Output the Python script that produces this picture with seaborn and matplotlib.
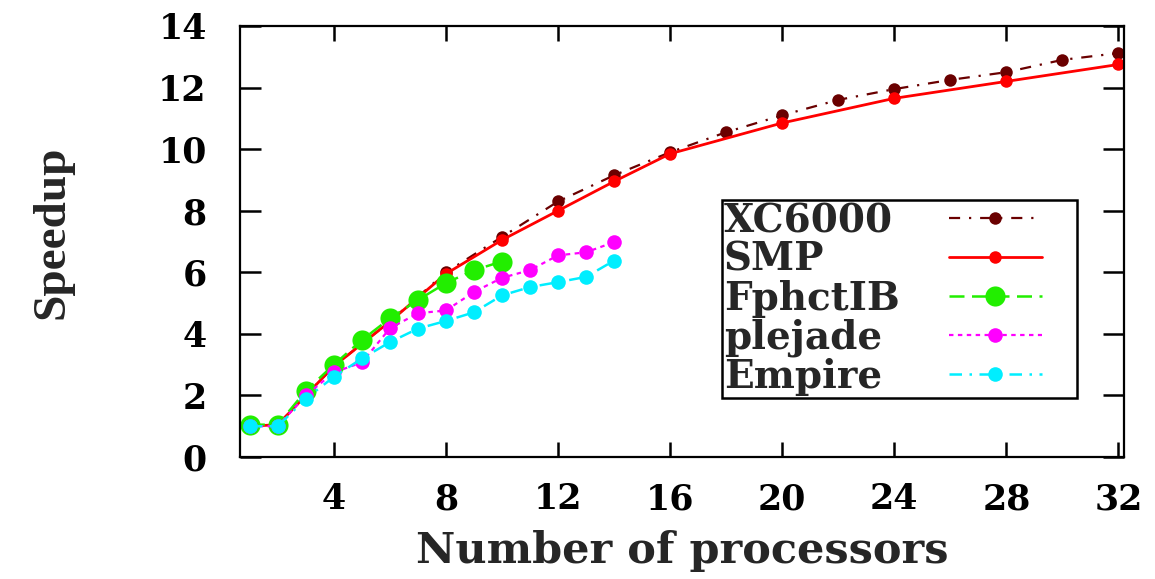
import matplotlib
matplotlib.use("Agg")
import matplotlib.pyplot as plt
from matplotlib.offsetbox import HPacker, DrawingArea
import seaborn as sns
import pandas as pd

# ---- data ----
xc_x = [1, 2, 4, 6, 8, 10, 12, 14, 16, 18, 20, 22, 24, 26, 28, 30, 32]
xc_y = [1.0, 1.05, 2.95, 4.4, 6.0, 7.15, 8.3, 9.15, 9.9, 10.55, 11.1, 11.6, 11.95, 12.25, 12.5, 12.9, 13.12]

smp_x = [1, 2, 4, 6, 8, 10, 12, 14, 16, 20, 24, 28, 32]
smp_y = [1.0, 1.05, 2.95, 4.4, 5.95, 7.05, 8.0, 8.95, 9.85, 10.85, 11.65, 12.2, 12.75]

fp_x = [1, 2, 3, 4, 5, 6, 7, 8, 9, 10]
fp_y = [1.05, 1.05, 2.15, 3.0, 3.8, 4.5, 5.1, 5.65, 6.07, 6.35]

pl_x = [1, 2, 3, 4, 5, 6, 7, 8, 9, 10, 11, 12, 13, 14]
pl_y = [1.0, 1.0, 2.0, 2.75, 3.07, 4.18, 4.67, 4.76, 5.36, 5.82, 6.07, 6.55, 6.65, 6.98]

em_x = [1, 2, 3, 4, 5, 6, 7, 8, 9, 10, 11, 12, 13, 14]
em_y = [1.0, 1.0, 1.9, 2.6, 3.2, 3.73, 4.17, 4.42, 4.7, 5.25, 5.52, 5.68, 5.85, 6.38]

labels = ["XC6000", "SMP", "FphctIB", "plejade", "Empire"]
x_ticks = [4, 8, 12, 16, 20, 24, 28, 32]
y_ticks = [0, 2, 4, 6, 8, 10, 12, 14]

# ---- style ----
sns.set_theme(style="white")
plt.rcParams["font.family"] = ["DejaVu Serif"]
plt.rcParams["font.weight"] = "bold"

fig = plt.figure(figsize=(11.55, 5.79), dpi=100)
ax = fig.add_axes([0.2078, 0.2107, 0.7654, 0.7444])

series = [
    (xc_x, xc_y, "#6a0000", (0, (5, 4, 1, 4)), 9, 1.6),
    (smp_x, smp_y, "#ff0000", "-", 9, 2.0),
    (fp_x, fp_y, "#22ee00", (0, (6, 3)), 14.5, 1.8),
    (pl_x, pl_y, "#ff00ff", (0, (2, 2)), 10.5, 1.6),
    (em_x, em_y, "#00eeff", (0, (5, 3, 1, 3)), 10.5, 1.8),
]

for (xs, ys, col, ls, ms, lw), lab in zip(series, labels):
    df = pd.DataFrame({"x": xs, "y": ys})
    sns.lineplot(data=df, x="x", y="y", ax=ax, color=col, linestyle=ls,
                 linewidth=lw, marker="o", markersize=ms,
                 markeredgewidth=0, markeredgecolor=col, label=lab)

ax.set_xlim(0.65, 32.2)
ax.set_ylim(0, 14)
ax.set_xticks(x_ticks)
ax.set_yticks(y_ticks)

for s in ax.spines.values():
    s.set_color("black")
    s.set_linewidth(1.6)

ax.tick_params(axis="y", which="both", direction="in", length=15, width=1.8,
               left=True, right=True, pad=24, labelsize=25, colors="black")
ax.tick_params(axis="x", which="both", direction="in", length=11, width=1.8,
               bottom=True, top=True, pad=18, labelsize=25, colors="black")
for lab in ax.get_xticklabels() + ax.get_yticklabels():
    lab.set_fontweight("bold")

ax.set_xlabel("Number of processors", fontsize=31, fontweight="bold", labelpad=10)
ax.set_ylabel("Speedup", fontsize=34, fontweight="bold",
              family=["Liberation Serif"])
ax.yaxis.set_label_coords(-0.188, 0.522)

leg = ax.legend(loc="upper right", bbox_to_anchor=(0.947, 0.596),
                borderaxespad=0, markerfirst=False, frameon=True,
                fancybox=False, framealpha=1, handlelength=2.4,
                handletextpad=0.6, labelspacing=0.02, borderpad=0.05,
                prop={"family": "DejaVu Serif", "weight": "bold", "size": 28})
leg.get_frame().set_edgecolor("black")
leg.get_frame().set_linewidth(1.8)

# left-align legend labels, keep line samples in a common column,
# and leave a gap on the right like the original key box
row_width_px = 318
right_gap_pt = 24
for column in leg._legend_handle_box.get_children():
    rows = column.get_children()
    for i, row in enumerate(rows):
        row.mode = "expand"
        row.width = row_width_px
        rows[i] = HPacker(pad=0, sep=0, align="baseline",
                          children=[row, DrawingArea(right_gap_pt, 1)])
leg._legend_box.set_figure(fig)

fig.savefig("out.png", dpi=100, facecolor="white")
